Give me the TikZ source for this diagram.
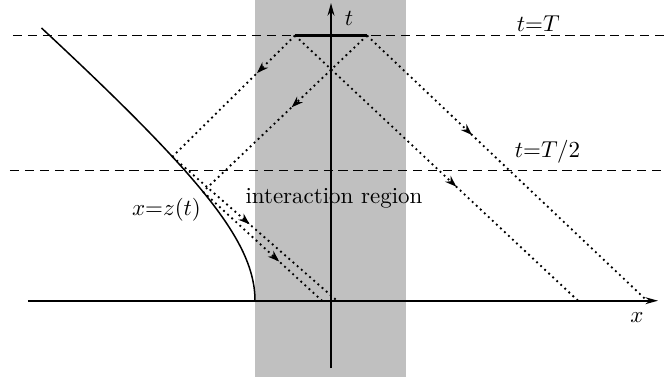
\documentclass[tikz,border=0pt]{standalone}
\usepackage{amsmath}
\usepackage{tikz}
\usetikzlibrary{arrows.meta,decorations.markings}
\usepackage{xcolor}
\definecolor{regiongray}{HTML}{C0C0C0}

\begin{document}
\begin{tikzpicture}[
  x=0.153cm, y=0.153cm,
  axis/.style={line width=0.7pt, -{Stealth[length=5.5pt,width=3pt]}},
  level/.style={line width=0.6pt, dash pattern=on 4pt off 2.5pt},
  mirror/.style={line width=0.65pt},
  ray/.style={line width=0.8pt, dash pattern=on 0.8pt off 1.6pt,
    postaction={decorate}, decoration={markings,
      mark=at position #1 with {\arrow{Stealth[length=5pt,width=3.5pt]}}}}]
\useasboundingbox (-33.1,-7.93) rectangle (33.5,30.07);
% interaction region
\fill[regiongray] (-7.6,-7.63) rectangle (7.5,30.07);
% axes
\draw[axis] (-30.3,0) -- (32.7,0);
\draw[axis] (0,-6.73) -- (0,29.77);
\node (xlab) at (30.6,-1.73) {$x$};
\node (tlab) at (1.8,28.27) {$t$};
% t=T and t=T/2
\draw[level] (-31.8,26.52) -- (33.5,26.52);
\draw[level] (-32.1,13) -- (33.5,13);
\node (Tlab) at (20.73,27.74) {$t{=}T$};
\node (Thalf) at (21.65,14.9) {$t{=}T/2$};
% mirror trajectory
\draw[mirror] plot[domain=0:27.27, samples=80, variable=\s]
  ({-7.6-1.16*(sqrt(121+\s*\s)-11)}, \s);
\node (zlab) at (-16.45,9.07) {$x{=}z(t)$};
\node (region) at (0.3,10.27) {interaction region};
% detector segment and light rays
\coordinate (A) at (-3.6,26.52);
\coordinate (B) at (3.6,26.52);
\coordinate (P1) at (-15.86,14.4);
\coordinate (P2) at (-12.8,10.9);
\coordinate (E1) at (0.6,0);
\coordinate (E2) at (-0.9,0);
\coordinate (F1) at (24.7,0);
\coordinate (F2) at (31.6,0);
\draw[line width=1.1pt] (A) -- (B);
\foreach \src/\dst/\pos in {A/P1/0.31, B/P2/0.46, P1/E1/0.47,
                            P2/E2/0.64, B/F2/0.375, A/F1/0.57} {
  \draw[ray=\pos] (\src) -- (\dst);}
\end{tikzpicture}
\end{document}
